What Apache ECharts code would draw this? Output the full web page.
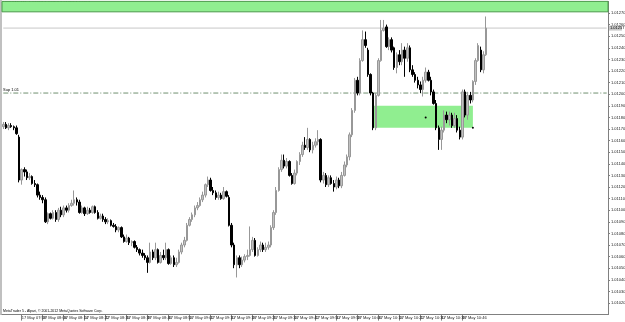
<!DOCTYPE html>
<html><head><meta charset="utf-8">
<script src="https://cdn.jsdelivr.net/npm/echarts@6/dist/echarts.min.js"></script>
<style>html,body{margin:0;padding:0;background:#fff;}#c{width:625px;height:322px;}</style>
</head><body><div id="c"></div>
<script>
const opens=[1.01172,1.01174,1.01171,1.01173,1.01172,1.01171,1.01163,1.01126,1.01135,1.01133,
1.01128,1.01129,1.01123,1.01122,1.01113,1.01111,1.01109,1.01090,1.01097,1.01093,
1.01098,1.01092,1.01100,1.01096,1.01102,1.01100,1.01104,1.01106,1.01109,1.01107,
1.01098,1.01102,1.01097,1.01100,1.01098,1.01103,1.01098,1.01093,1.01095,1.01092,
1.01090,1.01091,1.01087,1.01086,1.01083,1.01085,1.01077,1.01073,1.01076,1.01072,
1.01073,1.01068,1.01066,1.01063,1.01061,1.01059,1.01055,1.01064,1.01059,1.01066,
1.01055,1.01061,1.01059,1.01066,1.01054,1.01059,1.01053,1.01055,1.01064,1.01070,
1.01074,1.01087,1.01092,1.01096,1.01102,1.01104,1.01109,1.01113,1.01122,1.01126,
1.01117,1.01115,1.01111,1.01113,1.01110,1.01116,1.01111,1.01087,1.01070,1.01053,
1.01059,1.01053,1.01057,1.01060,1.01061,1.01066,1.01074,1.01061,1.01066,1.01070,
1.01066,1.01068,1.01070,1.01085,1.01098,1.01117,1.01135,1.01143,1.01138,1.01142,
1.01130,1.01123,1.01132,1.01142,1.01148,1.01156,1.01154,1.01161,1.01152,1.01156,
1.01159,1.01161,1.01126,1.01130,1.01122,1.01128,1.01123,1.01120,1.01126,1.01121,
1.01130,1.01139,1.01146,1.01165,1.01186,1.01212,1.01201,1.01229,1.01247,1.01238,
1.01217,1.01201,1.01171,1.01199,1.01229,1.01255,1.01258,1.01241,1.01247,1.01240,
1.01223,1.01234,1.01228,1.01238,1.01231,1.01240,1.01221,1.01217,1.01212,1.01208,
1.01204,1.01212,1.01219,1.01212,1.01202,1.01192,1.01171,1.01161,1.01169,1.01182,
1.01178,1.01182,1.01173,1.01179,1.01169,1.01163,1.01202,1.01182,1.01199,1.01195,
1.01211,1.01229,1.01238,1.01221,1.01234];
const closes=[1.01174,1.01171,1.01173,1.01172,1.01171,1.01166,1.01126,1.01135,1.01133,1.01128,
1.01129,1.01123,1.01122,1.01113,1.01111,1.01109,1.01090,1.01097,1.01093,1.01098,
1.01092,1.01100,1.01096,1.01102,1.01100,1.01104,1.01106,1.01109,1.01107,1.01098,
1.01102,1.01097,1.01100,1.01098,1.01103,1.01098,1.01093,1.01095,1.01092,1.01090,
1.01091,1.01087,1.01086,1.01083,1.01085,1.01077,1.01073,1.01076,1.01072,1.01073,
1.01068,1.01066,1.01063,1.01061,1.01059,1.01055,1.01064,1.01059,1.01066,1.01055,
1.01061,1.01059,1.01066,1.01054,1.01059,1.01053,1.01055,1.01064,1.01070,1.01074,
1.01087,1.01092,1.01096,1.01102,1.01104,1.01109,1.01113,1.01122,1.01126,1.01117,
1.01115,1.01111,1.01113,1.01110,1.01116,1.01112,1.01087,1.01070,1.01053,1.01059,
1.01053,1.01057,1.01060,1.01061,1.01066,1.01074,1.01061,1.01066,1.01070,1.01066,
1.01068,1.01070,1.01085,1.01098,1.01117,1.01135,1.01143,1.01138,1.01142,1.01130,
1.01123,1.01132,1.01142,1.01148,1.01156,1.01154,1.01161,1.01152,1.01156,1.01159,
1.01161,1.01126,1.01130,1.01122,1.01128,1.01123,1.01120,1.01126,1.01121,1.01130,
1.01139,1.01146,1.01165,1.01186,1.01212,1.01201,1.01229,1.01247,1.01242,1.01217,
1.01201,1.01171,1.01199,1.01229,1.01255,1.01257,1.01241,1.01247,1.01238,1.01223,
1.01234,1.01228,1.01238,1.01231,1.01240,1.01221,1.01217,1.01212,1.01208,1.01204,
1.01212,1.01219,1.01212,1.01202,1.01192,1.01171,1.01161,1.01169,1.01182,1.01178,
1.01182,1.01173,1.01179,1.01169,1.01163,1.01202,1.01182,1.01199,1.01195,1.01211,
1.01229,1.01242,1.01221,1.01234,1.01257];
const lows=[1.01170,1.01170,1.01169,1.01171,1.01169,1.01165,1.01124,1.01122,1.01129,1.01126,
1.01126,1.01122,1.01120,1.01111,1.01109,1.01106,1.01089,1.01088,1.01092,1.01092,
1.01090,1.01090,1.01094,1.01094,1.01098,1.01098,1.01103,1.01104,1.01104,1.01097,
1.01097,1.01095,1.01096,1.01097,1.01097,1.01097,1.01092,1.01092,1.01090,1.01088,
1.01088,1.01086,1.01085,1.01081,1.01081,1.01076,1.01072,1.01072,1.01070,1.01069,
1.01067,1.01064,1.01061,1.01059,1.01057,1.01046,1.01054,1.01057,1.01057,1.01054,
1.01054,1.01057,1.01057,1.01053,1.01053,1.01051,1.01051,1.01054,1.01062,1.01068,
1.01073,1.01086,1.01090,1.01094,1.01100,1.01103,1.01107,1.01111,1.01120,1.01116,
1.01113,1.01109,1.01109,1.01109,1.01109,1.01111,1.01086,1.01068,1.01050,1.01042,
1.01050,1.01051,1.01055,1.01057,1.01060,1.01064,1.01060,1.01060,1.01064,1.01064,
1.01064,1.01066,1.01068,1.01083,1.01096,1.01116,1.01133,1.01136,1.01136,1.01129,
1.01122,1.01122,1.01130,1.01139,1.01146,1.01152,1.01152,1.01150,1.01149,1.01154,
1.01156,1.01124,1.01123,1.01120,1.01120,1.01122,1.01116,1.01118,1.01119,1.01119,
1.01129,1.01137,1.01143,1.01163,1.01184,1.01199,1.01199,1.01228,1.01240,1.01215,
1.01199,1.01169,1.01169,1.01198,1.01228,1.01254,1.01240,1.01238,1.01236,1.01221,
1.01218,1.01225,1.01225,1.01215,1.01228,1.01219,1.01215,1.01210,1.01205,1.01201,
1.01198,1.01210,1.01211,1.01199,1.01191,1.01169,1.01152,1.01152,1.01167,1.01175,
1.01173,1.01171,1.01171,1.01167,1.01161,1.01161,1.01180,1.01178,1.01192,1.01193,
1.01208,1.01228,1.01219,1.01218,1.01233];
const highs=[1.01176,1.01176,1.01175,1.01175,1.01173,1.01173,1.01165,1.01136,1.01137,1.01135,
1.01132,1.01130,1.01126,1.01123,1.01116,1.01113,1.01111,1.01098,1.01098,1.01100,
1.01100,1.01102,1.01103,1.01104,1.01104,1.01106,1.01109,1.01117,1.01111,1.01109,
1.01104,1.01103,1.01103,1.01102,1.01104,1.01104,1.01100,1.01097,1.01097,1.01094,
1.01093,1.01092,1.01089,1.01088,1.01086,1.01086,1.01079,1.01079,1.01077,1.01074,
1.01074,1.01070,1.01067,1.01066,1.01063,1.01061,1.01072,1.01066,1.01072,1.01067,
1.01064,1.01066,1.01072,1.01067,1.01061,1.01061,1.01059,1.01066,1.01072,1.01077,
1.01089,1.01094,1.01098,1.01104,1.01107,1.01111,1.01116,1.01123,1.01129,1.01128,
1.01120,1.01117,1.01116,1.01115,1.01120,1.01117,1.01113,1.01089,1.01072,1.01061,
1.01061,1.01060,1.01062,1.01066,1.01086,1.01077,1.01076,1.01068,1.01073,1.01072,
1.01072,1.01073,1.01087,1.01100,1.01120,1.01137,1.01148,1.01148,1.01145,1.01143,
1.01132,1.01135,1.01143,1.01150,1.01159,1.01163,1.01171,1.01162,1.01159,1.01162,
1.01169,1.01162,1.01133,1.01132,1.01130,1.01130,1.01126,1.01129,1.01128,1.01133,
1.01142,1.01148,1.01167,1.01188,1.01214,1.01215,1.01231,1.01255,1.01254,1.01240,
1.01218,1.01202,1.01201,1.01231,1.01264,1.01264,1.01260,1.01249,1.01249,1.01241,
1.01236,1.01238,1.01244,1.01241,1.01244,1.01242,1.01225,1.01219,1.01215,1.01211,
1.01215,1.01223,1.01221,1.01215,1.01204,1.01195,1.01173,1.01172,1.01186,1.01185,
1.01185,1.01184,1.01184,1.01182,1.01172,1.01204,1.01204,1.01202,1.01202,1.01212,
1.01231,1.01244,1.01241,1.01237,1.01267];
const tickLabels=["17 May 2012","17 May 07:58","17 May 08:06","17 May 08:14","17 May 08:22","17 May 08:30",
"17 May 08:38","17 May 08:46","17 May 08:54","17 May 09:02","17 May 09:10","17 May 09:18","17 May 09:26",
"17 May 09:34","17 May 09:42","17 May 09:50","17 May 09:58","17 May 10:06","17 May 10:14","17 May 10:22",
"17 May 10:30","17 May 10:38","17 May 10:46","17 May 10:54"];
const priceTicks=[1.0102,1.0103,1.0104,1.0105,1.0106,1.0107,1.0108,1.0109,1.0110,1.0111,1.0112,1.0113,1.0114,
1.0115,1.0116,1.0117,1.0118,1.0119,1.0120,1.0121,1.0122,1.0123,1.0124,1.0125,1.0126,1.0127];
const totalSlots=231;
const startMinute=7*60+51;
const categories=[];
for(let i=0;i<totalSlots;i++){const m=startMinute+i;categories.push(String(Math.floor(m/60)).padStart(2,'0')+':'+String(m%60).padStart(2,'0'));}
const currentPrice=1.01257;
const supportLevel=1.01201;
const titleText="USDCAD,M1  1.01253 1.01257 1.01253 1.01257";

const candleData=opens.map((o,i)=>[o,closes[i],lows[i],highs[i]]);
function isTick(i){return i===0||(i>=7&&i<=183&&(i-7)%8===0);}
function tickText(i){return i===0?tickLabels[0]:tickLabels[(i-7)/8+1];}
const FONT='Liberation Sans';
const lastCat=categories[totalSlots-1];
const chart=echarts.init(document.getElementById('c'),null,{renderer:'canvas'});
chart.setOption({
  animation:false,
  backgroundColor:'#ffffff',
  grid:{left:2,right:17,top:1.4,bottom:7.4,show:false},
  xAxis:{type:'category',data:categories,boundaryGap:true,
    axisLine:{show:true,lineStyle:{color:'#808080',width:1}},
    axisTick:{show:true,interval:(i)=>isTick(i),length:6,alignWithLabel:true,lineStyle:{color:'#808080'}},
    axisLabel:{show:true,interval:(i)=>isTick(i),formatter:(v,i)=>tickText(i),fontSize:4,fontFamily:FONT,color:'#222',align:'left',margin:1},
    splitLine:{show:false}},
  yAxis:{type:'value',position:'right',min:1.0101,max:1.0128,
    axisLine:{show:true,lineStyle:{color:'#808080',width:1}},
    axisTick:{show:true,length:2,customValues:priceTicks,lineStyle:{color:'#808080'}},
    axisLabel:{show:false},
    splitLine:{show:false}},
  series:[{
    type:'candlestick',data:candleData,barWidth:2,z:3,
    itemStyle:{color:'#c0c0c0',borderColor:'#989898',color0:'#000000',borderColor0:'#000000',borderWidth:1},
    markArea:{silent:true,
      data:[
        [{yAxis:1.01271,itemStyle:{color:'#90ee90',borderColor:'#4a9a4a',borderWidth:1}},{yAxis:1.0128}],
        [{xAxis:categories[141],yAxis:1.01190,itemStyle:{color:'#90ee90'}},{xAxis:categories[179],yAxis:1.01171}]
      ]},
    markPoint:{silent:true,symbol:'circle',symbolSize:2,itemStyle:{color:'#000'},label:{show:false},
      data:[{coord:[categories[161],1.0118]},{coord:[categories[179],1.01171]}]}
  },{
    type:'line',z:2,silent:true,showSymbol:false,
    data:[[categories[0],currentPrice],[lastCat,currentPrice]],
    lineStyle:{color:'#c8c8c8',width:1,type:'solid'}
  },{
    type:'line',z:2,silent:true,showSymbol:false,
    data:[[categories[0],supportLevel],[lastCat,supportLevel]],
    lineStyle:{color:'#6f8f6f',width:1,type:[5,2,1,2]}
  }]
});
const yCur=chart.convertToPixel({yAxisIndex:0},currentPrice);
const ySup=chart.convertToPixel({yAxisIndex:0},supportLevel);
const graphics=[
  {type:'rect',left:0,top:0,shape:{width:2,height:315},style:{fill:'#c0c0c0'},silent:true},
  {type:'text',left:3,top:1,style:{text:titleText,fontSize:4,fontFamily:FONT,fill:'#000'},silent:true},
  {type:'text',left:3,top:309,style:{text:'MetaTrader 5 - Alpari, \u00a9 2001-2012 MetaQuotes Software Corp.',fontSize:3.5,fontFamily:FONT,fill:'#000'},silent:true},
  {type:'text',x:3,y:ySup-5,style:{text:'Sup 1.01',fontSize:4,fontFamily:FONT,fill:'#000'},silent:true}
];
priceTicks.forEach(function(v){
  const py=chart.convertToPixel({yAxisIndex:0},v);
  graphics.push({type:'text',x:611,y:py,style:{text:v.toFixed(5),fontSize:4,fontFamily:FONT,fill:'#222',verticalAlign:'middle'},silent:true});
});
graphics.push({type:'rect',x:609,y:yCur-2.5,shape:{width:13,height:5},style:{fill:'#c8c8c8'},silent:true,z:10});
graphics.push({type:'text',x:610,y:yCur,style:{text:currentPrice.toFixed(5),fontSize:4,fontFamily:FONT,fill:'#000',verticalAlign:'middle'},silent:true,z:11});
chart.setOption({graphic:graphics});
</script></body></html>
